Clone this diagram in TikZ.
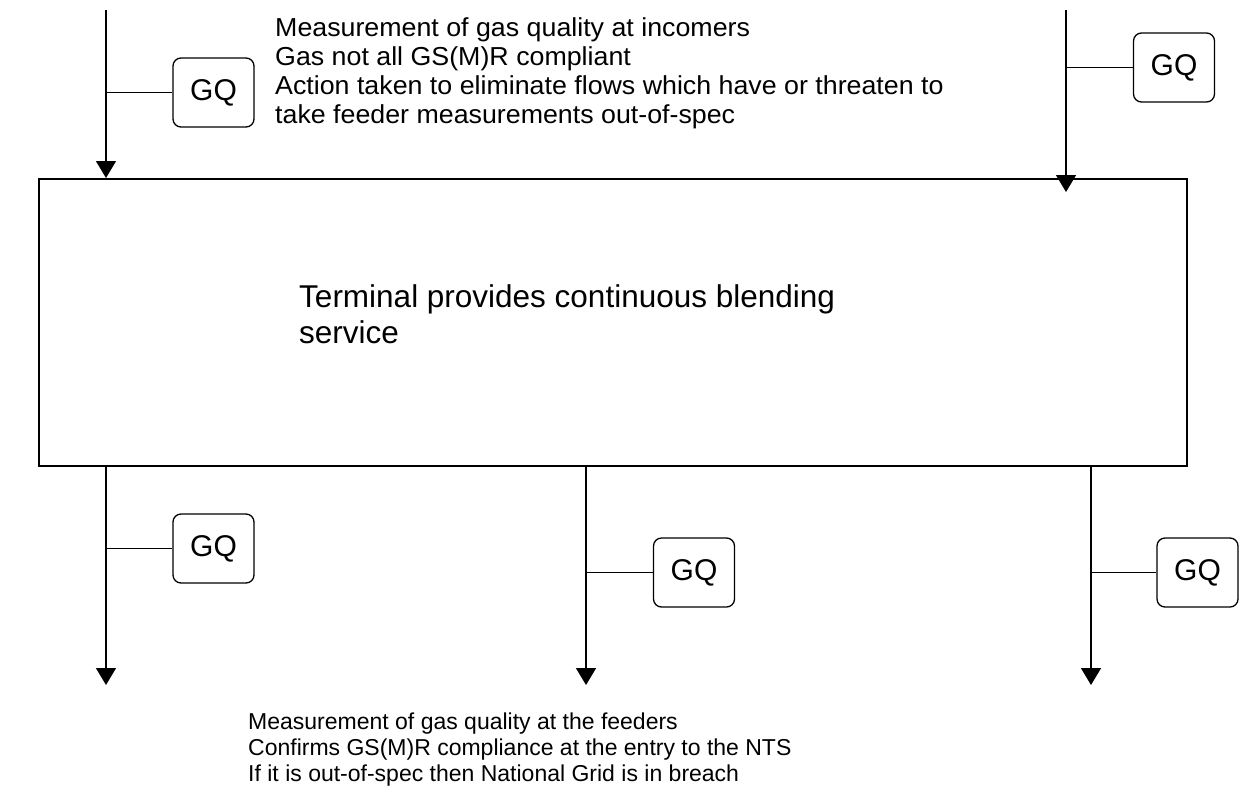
\documentclass[tikz,border=0pt]{standalone}
\usepackage{fontspec}
\setmainfont{Liberation Sans}
\newfontfamily\widesans[FakeStretch=1.03]{Liberation Sans}
\usetikzlibrary{arrows.meta}
\begin{document}
\begin{tikzpicture}[x=1pt,y=-1pt,
  flow/.style={line width=1.5pt,-{Triangle[width=20pt,length=17pt]}},
  tap/.style={line width=1.2pt},
  gq/.style={draw,line width=1.3pt,rounded corners=8pt,minimum width=81pt,minimum height=69pt,
    inner sep=0pt,font=\fontsize{30}{34}\selectfont},
  note/.style={align=left,inner sep=0pt,anchor=north west},
  terminalbox/.style={draw,line width=1.5pt,minimum width=1148pt,minimum height=287pt,
    inner sep=0pt,anchor=north west}]
\useasboundingbox (0,0) rectangle (1241,801);

% terminal
\node[terminalbox] (term) at (38,178) {};
\node[note,font=\fontsize{31.5}{36}\selectfont] (termtext) at (299,284)
  {Terminal provides continuous blending\\service};

% incomers
\coordinate (in1) at (106,10);
\coordinate (in2) at (1066,10);
\coordinate (in2end) at (1066,192);
\draw[flow] (in1) -- (in1 |- term.north);
\draw[flow] (in2) -- (in2end);

\node[gq] (gqa) at (213.5,92.5) {GQ};
\node[gq] (gqb) at (1174,67.5) {GQ};
\draw[tap] (gqa.west) -- (gqa.west -| in1);
\draw[tap] (gqb.west) -- (gqb.west -| in2);

\node[note,font=\widesans\fontsize{26}{29}\selectfont] (intext) at (275,17)
  {Measurement of gas quality at incomers\\
   Gas not all GS(M)R compliant\\
   Action taken to eliminate flows which have or threaten to\\
   take feeder measurements out-of-spec};

% feeders
\coordinate (out1) at (106,685);
\coordinate (out2) at (586,685);
\coordinate (out3) at (1091,685);
\draw[flow] (term.south -| out1) -- (out1);
\draw[flow] (term.south -| out2) -- (out2);
\draw[flow] (term.south -| out3) -- (out3);

\node[gq] (gqc) at (213.5,548.5) {GQ};
\node[gq] (gqd) at (694,572.5) {GQ};
\node[gq] (gqe) at (1197.5,572.5) {GQ};
\draw[tap] (gqc.west) -- (gqc.west -| out1);
\draw[tap] (gqd.west) -- (gqd.west -| out2);
\draw[tap] (gqe.west) -- (gqe.west -| out3);

\node[note,font=\fontsize{23}{26}\selectfont] (outtext) at (248,713)
  {Measurement of gas quality at the feeders\\
   Confirms GS(M)R compliance at the entry to the NTS\\
   If it is out-of-spec then National Grid is in breach};
\end{tikzpicture}
\end{document}
